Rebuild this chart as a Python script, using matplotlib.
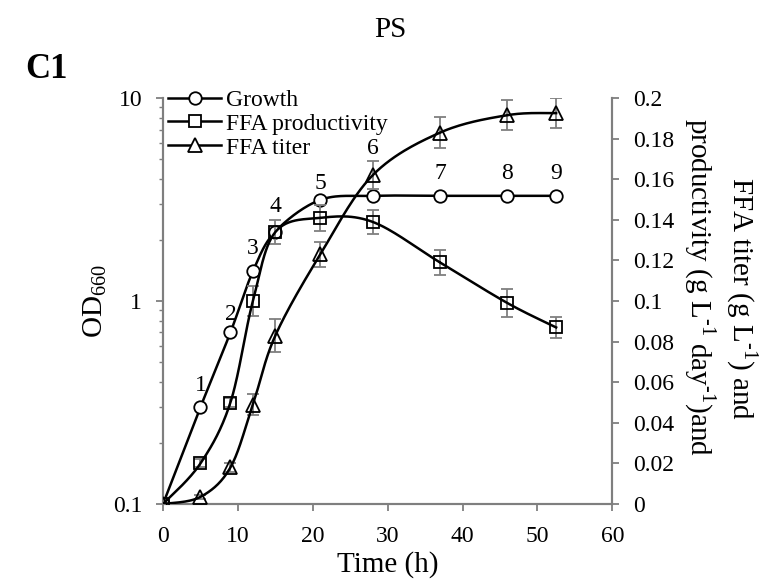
import numpy as np
import matplotlib
matplotlib.use("Agg")
import matplotlib.pyplot as plt
from matplotlib.ticker import FixedLocator, FuncFormatter, LogLocator, NullFormatter

plt.rcParams['font.family'] = ['Liberation Serif', 'DejaVu Serif']
plt.rcParams['mathtext.fontset'] = 'custom'
plt.rcParams['mathtext.rm'] = 'Liberation Serif'

# data
time_h = [0, 5, 9, 12, 15, 21, 28, 37, 46, 52.5]
growth = [0.1, 0.30, 0.70, 1.4, 2.2, 3.15, 3.3, 3.3, 3.3, 3.3]
ffa_prod = [0, 0.02, 0.05, 0.10, 0.134, 0.141, 0.139, 0.119, 0.099, 0.087]
ffa_prod_err = [0, 0.002, 0.002, 0.0075, 0.006, 0.0065, 0.006, 0.006, 0.007, 0.005]
ffa_titer = [0, 0.0035, 0.018, 0.049, 0.083, 0.123, 0.162, 0.183, 0.1916, 0.1926]
ffa_titer_err = [0, 0.001, 0.002, 0.005, 0.008, 0.006, 0.007, 0.0075, 0.0075, 0.0075]
point_labels = ['1', '2', '3', '4', '5', '6', '7', '8', '9']


def smooth(x, y, n=30):
	# catmull-rom through the points, like the excel smoothed line
	x = np.asarray(x, float)
	y = np.asarray(y, float)
	px = np.concatenate([[x[0]], x, [x[-1]]])
	py = np.concatenate([[y[0]], y, [y[-1]]])
	xs, ys = [], []
	t = np.linspace(0, 1, n)
	for i in range(1, len(px) - 2):
		for p, out in ((px, xs), (py, ys)):
			p0, p1, p2, p3 = p[i - 1], p[i], p[i + 1], p[i + 2]
			out.extend(0.5 * ((2 * p1) + (-p0 + p2) * t + (2 * p0 - 5 * p1 + 4 * p2 - p3) * t ** 2
							  + (-p0 + 3 * p1 - 3 * p2 + p3) * t ** 3))
	return np.array(xs), np.array(ys)


gray = '#7f7f7f'
fig = plt.figure(figsize=(7.8, 5.84), dpi=100)
ax = fig.add_axes([0.209, 0.137, 0.576, 0.695])
ax2 = ax.twinx()

# growth on log axis (smooth in log space)
sx, sy = smooth(time_h, np.log10(growth))
ax.plot(sx, 10 ** sy, color='black', lw=1.8, zorder=3)
ax.plot(time_h, growth, ls='none', marker='o', ms=9, mfc='white', mec='black', mew=1.3, zorder=4)
l1, = ax.plot([], [], color='black', lw=1.8, marker='o', ms=9, mfc='white', mec='black', mew=1.3)

for t, g, lab, dy in zip(time_h[1:], growth[1:], point_labels, [22, 18, 23, 25, 16, 47, 22, 22, 22]):
	ax.annotate(lab, (t, g), xytext=(0, dy), textcoords='offset pixels', ha='center', va='center', fontsize=17)

ax2.errorbar(time_h, ffa_prod, yerr=ffa_prod_err, ls='none', ecolor=gray, elinewidth=1.3, capsize=4, capthick=1.3, zorder=2)
sx, sy = smooth(time_h, ffa_prod)
ax2.plot(sx, sy, color='black', lw=1.8, zorder=3)
ax2.plot(time_h, ffa_prod, ls='none', marker='s', ms=9, mfc='none', mec='black', mew=1.3, zorder=4)

ax2.errorbar(time_h, ffa_titer, yerr=ffa_titer_err, ls='none', ecolor=gray, elinewidth=1.3, capsize=4, capthick=1.3, zorder=2)
sx, sy = smooth(time_h, ffa_titer)
ax2.plot(sx, sy, color='black', lw=1.8, zorder=3)
ax2.plot(time_h, ffa_titer, ls='none', marker='^', ms=10, mfc='none', mec='black', mew=1.3, zorder=4)

l2, = ax2.plot([], [], color='black', lw=1.8, marker='s', ms=9, mfc='white', mec='black', mew=1.3)
l3, = ax2.plot([], [], color='black', lw=1.8, marker='^', ms=10, mfc='white', mec='black', mew=1.3)

ax.set_yscale('log')
ax.set_ylim(0.1, 10)
ax.set_xlim(0, 60)
ax2.set_ylim(0, 0.2)
ax.set_xticks(range(0, 61, 10))
ax.yaxis.set_major_locator(FixedLocator([0.1, 1, 10]))
ax.yaxis.set_major_formatter(FuncFormatter(lambda v, p: '%g' % v))
ax.yaxis.set_minor_locator(LogLocator(base=10, subs=np.arange(2, 10)))
ax.yaxis.set_minor_formatter(NullFormatter())
ax2.set_yticks(np.linspace(0, 0.2, 11))
ax2.yaxis.set_major_formatter(FuncFormatter(lambda v, p: '%g' % round(v, 2)))

for a in (ax, ax2):
	a.spines['top'].set_visible(False)
	for s in ('left', 'right', 'bottom'):
		a.spines[s].set_color(gray)
		a.spines[s].set_linewidth(1.5)
	a.tick_params(which='major', direction='out', length=5, width=1.3, color=gray, labelsize=17, pad=10)
	a.tick_params(which='minor', direction='out', length=3, width=1.0, color=gray)
ax.tick_params(axis='x', pad=11)
ax.patch.set_visible(False)

ax.set_xlabel('Time (h)', fontsize=21, labelpad=3)
ax.set_ylabel('OD$_{660}$', fontsize=21, labelpad=3)

# right axis title, two lines
fig.text(742 / 780, 1 - 298 / 584, r'FFA titer (g L$^{\text{-1}}$) and', rotation=270,
		 ha='center', va='center', fontsize=21)
fig.text(700 / 780, 1 - 287 / 584, r'productivity (g L$^{\text{-1}}$ day$^{\text{-1}}$)and', rotation=270,
		 ha='center', va='center', fontsize=21)

ax.legend([l1, l2, l3], ['Growth', 'FFA productivity', 'FFA titer'], loc='upper left',
		  bbox_to_anchor=(-0.01, 1.045), frameon=False, fontsize=17, handlelength=2.25,
		  handletextpad=0.2, labelspacing=0.1, borderaxespad=0)

fig.text(0.5, 0.948, 'PS', ha='center', va='center', fontsize=21)
fig.text(25 / 780, 1 - 70 / 584, 'C1', ha='left', va='center', fontsize=25, fontweight='bold')

fig.savefig('out.png', dpi=100)
